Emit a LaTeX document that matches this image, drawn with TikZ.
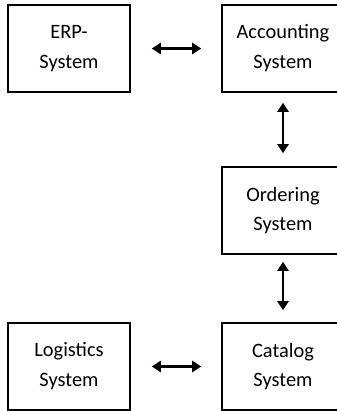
\documentclass[tikz,border=0pt]{standalone}
\usepackage{fontspec}
\setmainfont{Carlito}
\usetikzlibrary{arrows.meta}
\begin{document}
\begin{tikzpicture}[x=1bp,y=1bp,
  sysbox/.style={draw, line width=1.5bp, minimum width=122bp, minimum height=87bp,
    inner sep=0pt, align=center, font=\fontsize{20.5}{30}\selectfont},
  link/.style={line width=2.4bp, {Triangle[length=9bp,width=11bp]}-{Triangle[length=9bp,width=11bp]}}]
\useasboundingbox (0,0) rectangle (337,411);
\clip (0,0) rectangle (337,411);
\node[sysbox] (erp) at (69,362.5) {ERP-\\System};
\node[sysbox] (acc) at (283,362.5) {Accounting\\System};
\node[sysbox] (ord) at (283,200.5) {Ordering\\System};
\node[sysbox] (log) at (69,44.5) {Logistics\\System};
\node[sysbox] (cat) at (283,44.5) {Catalog\\System};
\draw[link, shorten <=21bp, shorten >=20bp] (erp) -- (acc);
\draw[link, shorten <=10bp, shorten >=13bp] (acc) -- (ord);
\draw[link, shorten <=7bp, shorten >=12bp] (ord) -- (cat);
\draw[link, shorten <=21bp, shorten >=20bp] (log) -- (cat);
\end{tikzpicture}
\end{document}
